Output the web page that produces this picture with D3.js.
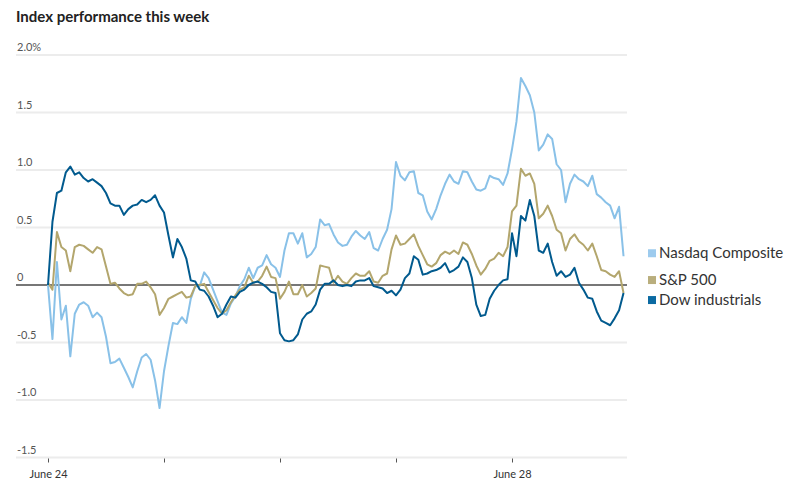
<!DOCTYPE html>
<html>
<head>
<meta charset="utf-8">
<script src="https://cdn.jsdelivr.net/npm/d3@7"></script>
<style>
  body{margin:0;background:#fff;}
  text{font-family:Lato,"Noto Sans",sans-serif;}
  .title{font-size:15px;font-weight:700;fill:#222;}
  .ylab{font-size:11px;fill:#555;}
  .xlab{font-size:11px;fill:#333;}
  .leg{font-size:15px;fill:#333;}
</style>
</head>
<body>
<div id="chart"></div>
<script>
var width=794,height=484;

// 15-minute steps from Monday's open, 26 per trading day
var dayStarts=[0,26,52,78,104];
var dayLabels=["June 24","","","","June 28"];

var yTicks=[-1.5,-1,-0.5,0,0.5,1,1.5,2];
var yLabels=["-1.5","-1.0","-0.5","0","0.5","1.0","1.5","2.0%"];

var names=["Nasdaq Composite","S&P 500","Dow industrials"];
var lineColors=["#89c1e8","#b3a66d","#015a8e"];
var keyColors=["#9dcbee","#b9ae7d","#0b6aa2"];

// % change, every 15 minutes
var nasdaq=[0.00,-0.47,0.20,-0.30,-0.18,-0.62,-0.25,-0.17,-0.15,-0.18,-0.28,-0.24,-0.28,-0.45,-0.68,-0.67,-0.64,-0.72,-0.80,-0.89,-0.75,-0.63,-0.60,-0.65,-0.83,-1.07,
  -0.75,-0.53,-0.33,-0.34,-0.28,-0.33,-0.12,-0.01,-0.01,0.11,0.06,-0.04,-0.14,-0.24,-0.26,-0.16,-0.10,-0.01,0.05,0.15,0.06,0.15,0.17,0.26,0.18,0.15,
  0.07,0.30,0.45,0.45,0.36,0.45,0.24,0.27,0.33,0.57,0.52,0.53,0.44,0.37,0.34,0.35,0.42,0.47,0.43,0.40,0.46,0.32,0.30,0.40,0.48,0.66,
  1.07,0.95,0.91,0.98,0.99,0.80,0.78,0.64,0.57,0.66,0.78,0.88,0.96,0.90,0.88,0.99,0.98,0.90,0.83,0.82,0.84,0.95,0.93,0.92,0.87,0.97,
  1.18,1.42,1.80,1.73,1.65,1.50,1.17,1.22,1.31,1.27,1.05,1.00,0.72,0.88,0.96,0.92,0.90,0.86,0.95,0.79,0.76,0.72,0.69,0.58,0.68,0.25];

var sp500=[0.02,-0.04,0.46,0.33,0.30,0.12,0.33,0.35,0.34,0.31,0.28,0.33,0.31,0.16,0.01,0.02,-0.03,-0.07,-0.09,-0.08,0.01,0.01,0.03,-0.02,-0.08,-0.26,
  -0.20,-0.12,-0.10,-0.08,-0.06,-0.11,-0.10,-0.01,0.00,0.01,-0.06,-0.13,-0.20,-0.25,-0.22,-0.15,-0.09,-0.04,-0.02,0.08,0.02,0.03,0.08,0.16,0.07,0.06,
  -0.12,-0.06,0.03,-0.08,-0.08,0.00,-0.10,-0.07,-0.03,0.17,0.16,0.15,0.02,0.08,0.03,0.01,0.06,0.10,0.08,0.08,0.12,0.03,0.02,0.08,0.10,0.31,
  0.43,0.35,0.36,0.40,0.44,0.34,0.26,0.18,0.16,0.19,0.26,0.29,0.27,0.30,0.27,0.37,0.35,0.27,0.17,0.09,0.14,0.21,0.23,0.28,0.25,0.33,
  0.64,0.69,1.01,0.95,0.97,0.88,0.58,0.62,0.69,0.60,0.48,0.45,0.30,0.40,0.44,0.38,0.35,0.30,0.36,0.25,0.13,0.12,0.09,0.07,0.12,-0.07];

var dow=[0.00,0.55,0.80,0.82,0.98,1.03,0.96,0.98,0.93,0.90,0.92,0.89,0.86,0.80,0.71,0.69,0.69,0.61,0.66,0.69,0.70,0.74,0.72,0.74,0.78,0.69,
  0.63,0.43,0.24,0.40,0.33,0.23,0.04,0.03,-0.04,-0.05,-0.10,-0.18,-0.28,-0.25,-0.17,-0.10,-0.11,-0.06,-0.04,0.00,0.02,0.03,0.01,-0.02,-0.06,-0.07,
  -0.42,-0.48,-0.49,-0.48,-0.43,-0.30,-0.25,-0.23,-0.17,-0.04,0.01,0.01,0.04,0.00,-0.01,0.00,-0.01,0.03,0.04,0.04,0.06,-0.01,-0.02,-0.03,-0.07,-0.05,
  -0.09,-0.04,0.06,0.10,0.25,0.22,0.09,0.10,0.12,0.13,0.15,0.19,0.11,0.13,0.16,0.24,0.20,0.06,-0.17,-0.27,-0.26,-0.12,-0.05,0.00,0.04,0.05,
  0.45,0.25,0.60,0.56,0.74,0.60,0.30,0.28,0.36,0.20,0.08,0.12,0.07,0.09,0.15,0.02,-0.04,-0.11,-0.12,-0.23,-0.31,-0.33,-0.35,-0.29,-0.22,-0.07];

var series=[nasdaq,sp500,dow];

var svg=d3.select("#chart").append("svg")
          .attr("width",width).attr("height",height);

var x=d3.scaleLinear().domain([0,130]).range([48,628]);
var y=d3.scaleLinear().domain([-1.5,2]).range([457.5,55]);

svg.append("text").attr("class","title")
   .attr("x",16).attr("y",22)
   .text("Index performance this week");

// grid
var grid=svg.append("g").attr("class","grid");
grid.selectAll("line")
    .data(yTicks)
    .enter()
    .append("line")
    .attr("x1",16).attr("x2",627)
    .attr("y1",d=>y(d)).attr("y2",d=>y(d))
    .attr("stroke",d=>d===0?"#777":"#ececec")
    .attr("stroke-width",2);
grid.selectAll("text")
    .data(yTicks)
    .enter()
    .append("text")
    .attr("class","ylab")
    .attr("x",17)
    .attr("y",d=>y(d)-4)
    .text((d,i)=>yLabels[i]);

// x axis
var xAxis=d3.axisBottom(x).tickValues(dayStarts).tickSize(4)
            .tickFormat((d,i)=>dayLabels[i]);
var gx=svg.append("g").attr("class","x-axis")
          .attr("transform","translate(0,"+(y(-1.5)+1)+")")
          .call(xAxis);
gx.select(".domain").remove();
gx.selectAll(".tick line").attr("stroke","#555");
gx.selectAll(".tick text").attr("class","xlab").attr("dy","1.15em")
  .attr("font-family",null).attr("font-size",null).attr("fill",null);

// lines
var line=d3.line().x((d,i)=>x(i)).y(d=>y(d));
svg.append("g").selectAll("path")
   .data(series)
   .enter()
   .append("path")
   .attr("d",line)
   .attr("fill","none")
   .attr("stroke",(d,i)=>lineColors[i])
   .attr("stroke-width",2)
   .attr("stroke-linejoin","round");

// legend next to line ends, nudged apart
var ends=series.map((s,i)=>({i:i,y:y(s[s.length-1])}));
ends.sort((a,b)=>a.y-b.y);
for(var k=0;k<20;k++){
  for(var j=1;j<ends.length;j++){
    var gap=ends[j].y-ends[j-1].y;
    if(gap<20){
      var push=(20-gap)/2;
      ends[j-1].y-=push; ends[j].y+=push;
    }
  }
}
var leg=svg.append("g").selectAll("g")
   .data(ends)
   .enter()
   .append("g")
   .attr("transform",d=>"translate(648,"+(d.y-3)+")");
leg.append("rect")
   .attr("x",0).attr("y",-4).attr("width",8).attr("height",8)
   .attr("fill",d=>keyColors[d.i]);
leg.append("text").attr("class","leg")
   .attr("x",11).attr("y",5)
   .text(d=>names[d.i]);
</script>
</body>
</html>
